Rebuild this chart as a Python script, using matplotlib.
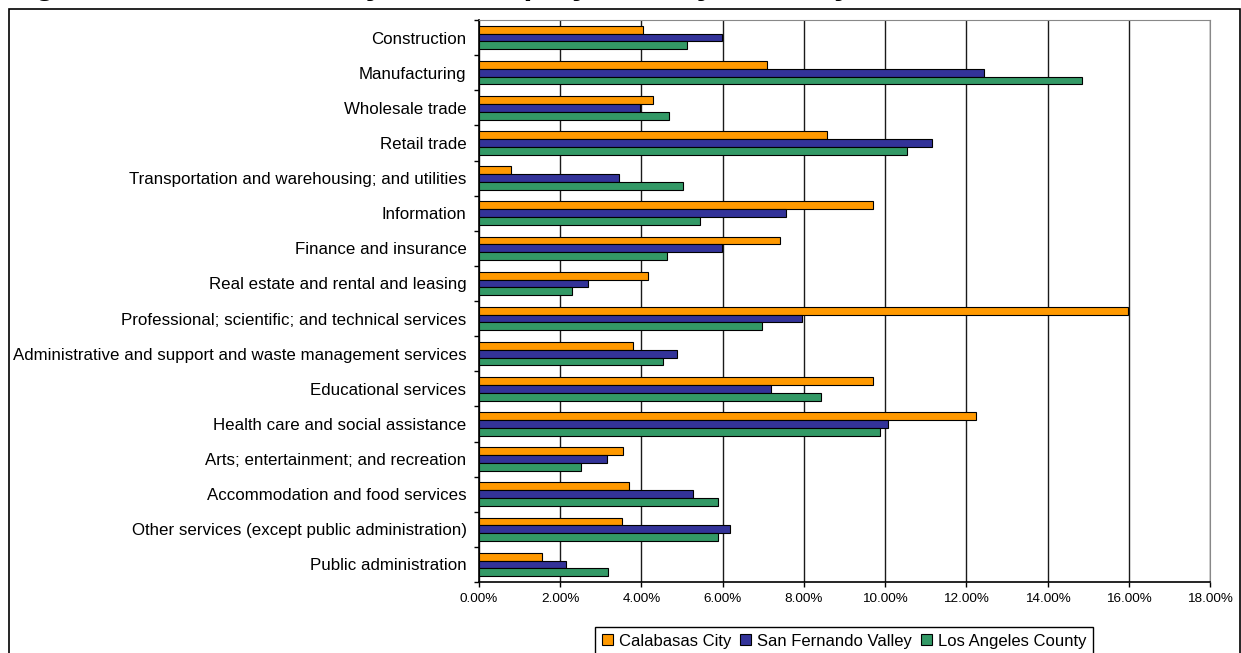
import numpy as np
import matplotlib.pyplot as plt
from matplotlib.patches import Rectangle
from matplotlib.ticker import FuncFormatter, FixedLocator

plt.rcParams['font.family'] = ['Liberation Sans', 'DejaVu Sans']

# Share of employed residents by industry (%)
industries = [
    'Construction',
    'Manufacturing',
    'Wholesale trade',
    'Retail trade',
    'Transportation and warehousing; and utilities',
    'Information',
    'Finance and insurance',
    'Real estate and rental and leasing',
    'Professional; scientific; and technical services',
    'Administrative and support and waste management services',
    'Educational services',
    'Health care and social assistance',
    'Arts; entertainment; and recreation',
    'Accommodation and food services',
    'Other services (except public administration)',
    'Public administration',
]
calabasas = [4.05, 7.08, 4.29, 8.56, 0.80, 9.69, 7.42, 4.15, 15.97, 3.78, 9.69, 12.23, 3.54, 3.70, 3.51, 1.55]
san_fernando = [5.98, 12.44, 3.97, 11.16, 3.44, 7.55, 5.98, 2.68, 7.95, 4.88, 7.18, 10.06, 3.14, 5.26, 6.19, 2.13]
los_angeles = [5.13, 14.84, 4.67, 10.55, 5.03, 5.43, 4.62, 2.28, 6.97, 4.54, 8.43, 9.87, 2.52, 5.89, 5.89, 3.18]
series_names = ['Calabasas City', 'San Fernando Valley', 'Los Angeles County']
x_ticks = np.arange(0, 19, 2)

W, H = 1241, 653
fig = plt.figure(figsize=(W / 100, H / 100), dpi=100)

# outer frame, bottom edge runs off the picture
fig.patches.append(Rectangle((8.5 / W, -0.05), (1240 - 8.5) / W, 1.05 - 8.5 / H,
                             transform=fig.transFigure, fill=False,
                             edgecolor='black', linewidth=1.2))

# title is cut at the top of the picture, only the descenders show
fig.text(6 / W, 1 + 5.5 / H, 'Figure 3: Calabasas City Area Employment by Industry',
         fontsize=23.4, fontweight='bold', ha='left', va='baseline')

ax = fig.add_axes([479 / W, 1 - 582 / H, (1210 - 479) / W, (582 - 20) / H])

y = np.arange(len(industries))
h = 0.222
colors = ['#FF9900', '#333399', '#339966']
for i, (vals, name) in enumerate(zip([calabasas, san_fernando, los_angeles], series_names)):
    ax.barh(y + (i - 1) * h, vals, height=h, color=colors[i], edgecolor='black',
            linewidth=0.8, label=name, zorder=3)

ax.set_xlim(0, 18)
ax.set_ylim(len(industries) - 0.5, -0.5)
ax.set_xticks(x_ticks)
ax.xaxis.set_major_formatter(FuncFormatter(lambda v, p: '%.2f%%' % v))
ax.set_yticks(y)
ax.set_yticklabels(industries, fontsize=12.2)
ax.yaxis.set_minor_locator(FixedLocator(np.arange(-0.5, len(industries), 1)))
ax.tick_params(axis='y', which='major', length=0, pad=9)
ax.tick_params(axis='y', which='minor', length=3.6, width=1, direction='out')
ax.tick_params(axis='x', length=3.6, width=1, direction='out', labelsize=9.7, pad=4)

ax.set_axisbelow(True)
ax.xaxis.grid(True, color='#1a1a1a', linewidth=1)
for s in ['top', 'right']:
    ax.spines[s].set_color('#888888')
for s in ['left', 'bottom']:
    ax.spines[s].set_color('black')
    ax.spines[s].set_linewidth(1.2)

leg = fig.legend(loc='upper center', bbox_to_anchor=(844 / W, 1 - 627 / H), ncol=3,
                 fontsize=12, frameon=True, fancybox=False, edgecolor='black',
                 framealpha=1, handlelength=0.65, handleheight=0.65,
                 handletextpad=0.35, columnspacing=0.55, borderpad=0.4,
                 borderaxespad=0)
leg.get_frame().set_linewidth(1.0)

fig.savefig('out.png', dpi=100)
